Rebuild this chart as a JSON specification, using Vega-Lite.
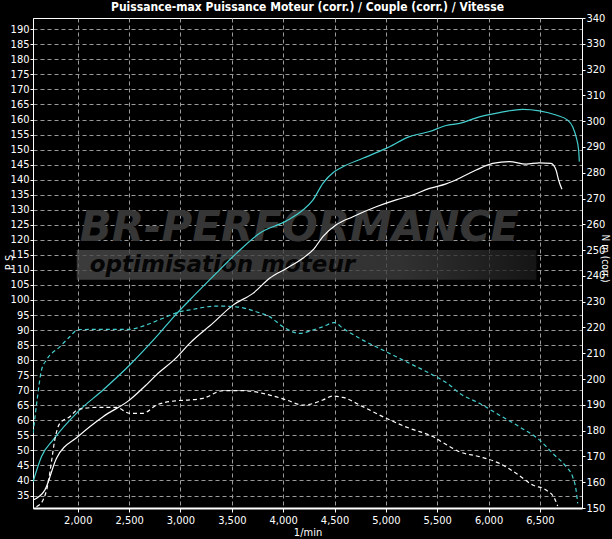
{
  "$schema": "https://vega.github.io/schema/vega-lite/v6.json",
  "width": 549,
  "height": 490,
  "autosize": "none",
  "padding": {"left": 33, "top": 18, "right": 30, "bottom": 31},
  "background": "#000000",
  "config": {
    "view": {"stroke": "#ffffff", "strokeWidth": 1, "fill": "#000000"},
    "font": "Liberation Sans Narrow, DejaVu Sans Condensed, sans-serif",
    "axis": {
      "labelColor": "#ffffff", "labelFontSize": 11,
      "titleColor": "#ffffff", "titleFontSize": 11, "titleFontWeight": "normal",
      "tickColor": "#ffffff", "domainColor": "#ffffff",
      "gridColor": "#9a9a9a", "gridDash": [4, 3], "gridWidth": 1
    }
  },
  "title": {
    "text": "Puissance-max Puissance Moteur (corr.) / Couple (corr.) / Vitesse",
    "color": "#ffffff",
    "fontSize": 12,
    "fontWeight": "bold",
    "font": "Liberation Sans Narrow, DejaVu Sans Condensed, sans-serif",
    "offset": -2,
    "anchor": "middle"
  },
  "datasets": {
    "curves": [
      {"rpm": 1564, "val": 39.5, "run": "A", "kind": "P"},
      {"rpm": 1647, "val": 48, "run": "A", "kind": "P"},
      {"rpm": 1760, "val": 53.5, "run": "A", "kind": "P"},
      {"rpm": 2003, "val": 62.9, "run": "A", "kind": "P"},
      {"rpm": 2246, "val": 70.1, "run": "A", "kind": "P"},
      {"rpm": 2506, "val": 78.4, "run": "A", "kind": "P"},
      {"rpm": 2766, "val": 87.8, "run": "A", "kind": "P"},
      {"rpm": 2950, "val": 95, "run": "A", "kind": "P"},
      {"rpm": 3090, "val": 100, "run": "A", "kind": "P"},
      {"rpm": 3316, "val": 107.8, "run": "A", "kind": "P"},
      {"rpm": 3544, "val": 115.5, "run": "A", "kind": "P"},
      {"rpm": 3771, "val": 122.2, "run": "A", "kind": "P"},
      {"rpm": 4031, "val": 126.3, "run": "A", "kind": "P"},
      {"rpm": 4192, "val": 129.9, "run": "A", "kind": "P"},
      {"rpm": 4289, "val": 133.2, "run": "A", "kind": "P"},
      {"rpm": 4387, "val": 138.8, "run": "A", "kind": "P"},
      {"rpm": 4500, "val": 142.7, "run": "A", "kind": "P"},
      {"rpm": 4581, "val": 144.3, "run": "A", "kind": "P"},
      {"rpm": 4776, "val": 147.1, "run": "A", "kind": "P"},
      {"rpm": 5003, "val": 150.4, "run": "A", "kind": "P"},
      {"rpm": 5230, "val": 154.3, "run": "A", "kind": "P"},
      {"rpm": 5425, "val": 156, "run": "A", "kind": "P"},
      {"rpm": 5587, "val": 158, "run": "A", "kind": "P"},
      {"rpm": 5717, "val": 158.7, "run": "A", "kind": "P"},
      {"rpm": 5911, "val": 160.9, "run": "A", "kind": "P"},
      {"rpm": 6106, "val": 162.3, "run": "A", "kind": "P"},
      {"rpm": 6333, "val": 163.4, "run": "A", "kind": "P"},
      {"rpm": 6495, "val": 162.9, "run": "A", "kind": "P"},
      {"rpm": 6657, "val": 161.5, "run": "A", "kind": "P"},
      {"rpm": 6770, "val": 159.8, "run": "A", "kind": "P"},
      {"rpm": 6819, "val": 157.6, "run": "A", "kind": "P"},
      {"rpm": 6852, "val": 154.3, "run": "A", "kind": "P"},
      {"rpm": 6877, "val": 149.9, "run": "A", "kind": "P"},
      {"rpm": 6884, "val": 146, "run": "A", "kind": "P"},

      {"rpm": 1564, "val": 33.5, "run": "B", "kind": "P"},
      {"rpm": 1679, "val": 36.8, "run": "B", "kind": "P"},
      {"rpm": 1793, "val": 47.4, "run": "B", "kind": "P"},
      {"rpm": 2003, "val": 54.6, "run": "B", "kind": "P"},
      {"rpm": 2246, "val": 61.2, "run": "B", "kind": "P"},
      {"rpm": 2506, "val": 66.8, "run": "B", "kind": "P"},
      {"rpm": 2668, "val": 71.8, "run": "B", "kind": "P"},
      {"rpm": 2766, "val": 75.1, "run": "B", "kind": "P"},
      {"rpm": 2950, "val": 80.5, "run": "B", "kind": "P"},
      {"rpm": 3090, "val": 85.6, "run": "B", "kind": "P"},
      {"rpm": 3316, "val": 92.3, "run": "B", "kind": "P"},
      {"rpm": 3511, "val": 98.3, "run": "B", "kind": "P"},
      {"rpm": 3706, "val": 102.2, "run": "B", "kind": "P"},
      {"rpm": 3868, "val": 107.2, "run": "B", "kind": "P"},
      {"rpm": 4031, "val": 110.5, "run": "B", "kind": "P"},
      {"rpm": 4192, "val": 113.9, "run": "B", "kind": "P"},
      {"rpm": 4300, "val": 117, "run": "B", "kind": "P"},
      {"rpm": 4387, "val": 121.1, "run": "B", "kind": "P"},
      {"rpm": 4517, "val": 125, "run": "B", "kind": "P"},
      {"rpm": 4679, "val": 127.7, "run": "B", "kind": "P"},
      {"rpm": 4906, "val": 131, "run": "B", "kind": "P"},
      {"rpm": 5100, "val": 133.3, "run": "B", "kind": "P"},
      {"rpm": 5262, "val": 134.9, "run": "B", "kind": "P"},
      {"rpm": 5425, "val": 137.1, "run": "B", "kind": "P"},
      {"rpm": 5587, "val": 138.6, "run": "B", "kind": "P"},
      {"rpm": 5717, "val": 140.5, "run": "B", "kind": "P"},
      {"rpm": 5879, "val": 143.2, "run": "B", "kind": "P"},
      {"rpm": 6041, "val": 145.4, "run": "B", "kind": "P"},
      {"rpm": 6203, "val": 146, "run": "B", "kind": "P"},
      {"rpm": 6365, "val": 145.2, "run": "B", "kind": "P"},
      {"rpm": 6495, "val": 145.6, "run": "B", "kind": "P"},
      {"rpm": 6608, "val": 145.4, "run": "B", "kind": "P"},
      {"rpm": 6657, "val": 143.2, "run": "B", "kind": "P"},
      {"rpm": 6682, "val": 139.9, "run": "B", "kind": "P"},
      {"rpm": 6715, "val": 136.8, "run": "B", "kind": "P"},

      {"rpm": 1565, "val": 179, "run": "A", "kind": "T"},
      {"rpm": 1604, "val": 191.9, "run": "A", "kind": "T"},
      {"rpm": 1647, "val": 203.5, "run": "A", "kind": "T"},
      {"rpm": 1695, "val": 207.4, "run": "A", "kind": "T"},
      {"rpm": 1825, "val": 212.5, "run": "A", "kind": "T"},
      {"rpm": 1922, "val": 216.4, "run": "A", "kind": "T"},
      {"rpm": 2003, "val": 219.2, "run": "A", "kind": "T"},
      {"rpm": 2506, "val": 219.3, "run": "A", "kind": "T"},
      {"rpm": 2668, "val": 221, "run": "A", "kind": "T"},
      {"rpm": 2830, "val": 223.6, "run": "A", "kind": "T"},
      {"rpm": 2992, "val": 226.1, "run": "A", "kind": "T"},
      {"rpm": 3090, "val": 226.8, "run": "A", "kind": "T"},
      {"rpm": 3349, "val": 228.3, "run": "A", "kind": "T"},
      {"rpm": 3544, "val": 228, "run": "A", "kind": "T"},
      {"rpm": 3738, "val": 226.1, "run": "A", "kind": "T"},
      {"rpm": 3868, "val": 224.2, "run": "A", "kind": "T"},
      {"rpm": 3998, "val": 220.3, "run": "A", "kind": "T"},
      {"rpm": 4160, "val": 217.7, "run": "A", "kind": "T"},
      {"rpm": 4289, "val": 219, "run": "A", "kind": "T"},
      {"rpm": 4387, "val": 220.3, "run": "A", "kind": "T"},
      {"rpm": 4500, "val": 221.9, "run": "A", "kind": "T"},
      {"rpm": 4581, "val": 219.7, "run": "A", "kind": "T"},
      {"rpm": 4776, "val": 215.1, "run": "A", "kind": "T"},
      {"rpm": 5003, "val": 210.6, "run": "A", "kind": "T"},
      {"rpm": 5230, "val": 206.1, "run": "A", "kind": "T"},
      {"rpm": 5457, "val": 201.6, "run": "A", "kind": "T"},
      {"rpm": 5620, "val": 197.7, "run": "A", "kind": "T"},
      {"rpm": 5717, "val": 194.5, "run": "A", "kind": "T"},
      {"rpm": 5911, "val": 190.6, "run": "A", "kind": "T"},
      {"rpm": 6106, "val": 186, "run": "A", "kind": "T"},
      {"rpm": 6300, "val": 181.5, "run": "A", "kind": "T"},
      {"rpm": 6495, "val": 176.4, "run": "A", "kind": "T"},
      {"rpm": 6625, "val": 171.2, "run": "A", "kind": "T"},
      {"rpm": 6755, "val": 166, "run": "A", "kind": "T"},
      {"rpm": 6819, "val": 162.1, "run": "A", "kind": "T"},
      {"rpm": 6852, "val": 157, "run": "A", "kind": "T"},
      {"rpm": 6868, "val": 151.8, "run": "A", "kind": "T"},

      {"rpm": 1598, "val": 150.5, "run": "B", "kind": "T"},
      {"rpm": 1662, "val": 153.1, "run": "B", "kind": "T"},
      {"rpm": 1711, "val": 159.6, "run": "B", "kind": "T"},
      {"rpm": 1744, "val": 168, "run": "B", "kind": "T"},
      {"rpm": 1776, "val": 176.4, "run": "B", "kind": "T"},
      {"rpm": 1825, "val": 182.8, "run": "B", "kind": "T"},
      {"rpm": 1922, "val": 185.4, "run": "B", "kind": "T"},
      {"rpm": 2003, "val": 188.2, "run": "B", "kind": "T"},
      {"rpm": 2182, "val": 189, "run": "B", "kind": "T"},
      {"rpm": 2377, "val": 189, "run": "B", "kind": "T"},
      {"rpm": 2506, "val": 186.7, "run": "B", "kind": "T"},
      {"rpm": 2635, "val": 186.7, "run": "B", "kind": "T"},
      {"rpm": 2766, "val": 189.9, "run": "B", "kind": "T"},
      {"rpm": 2960, "val": 191.6, "run": "B", "kind": "T"},
      {"rpm": 3090, "val": 191.9, "run": "B", "kind": "T"},
      {"rpm": 3219, "val": 192.5, "run": "B", "kind": "T"},
      {"rpm": 3414, "val": 195.5, "run": "B", "kind": "T"},
      {"rpm": 3608, "val": 195.5, "run": "B", "kind": "T"},
      {"rpm": 3868, "val": 193.8, "run": "B", "kind": "T"},
      {"rpm": 4031, "val": 191.9, "run": "B", "kind": "T"},
      {"rpm": 4192, "val": 189.9, "run": "B", "kind": "T"},
      {"rpm": 4290, "val": 190.5, "run": "B", "kind": "T"},
      {"rpm": 4387, "val": 191.9, "run": "B", "kind": "T"},
      {"rpm": 4484, "val": 193.4, "run": "B", "kind": "T"},
      {"rpm": 4581, "val": 192.9, "run": "B", "kind": "T"},
      {"rpm": 4776, "val": 189.3, "run": "B", "kind": "T"},
      {"rpm": 5003, "val": 184.8, "run": "B", "kind": "T"},
      {"rpm": 5230, "val": 180.9, "run": "B", "kind": "T"},
      {"rpm": 5457, "val": 177.7, "run": "B", "kind": "T"},
      {"rpm": 5587, "val": 174.6, "run": "B", "kind": "T"},
      {"rpm": 5717, "val": 171.8, "run": "B", "kind": "T"},
      {"rpm": 5911, "val": 169.9, "run": "B", "kind": "T"},
      {"rpm": 6106, "val": 167.3, "run": "B", "kind": "T"},
      {"rpm": 6268, "val": 163.5, "run": "B", "kind": "T"},
      {"rpm": 6430, "val": 158.9, "run": "B", "kind": "T"},
      {"rpm": 6560, "val": 157, "run": "B", "kind": "T"},
      {"rpm": 6641, "val": 153.8, "run": "B", "kind": "T"},
      {"rpm": 6673, "val": 150.8, "run": "B", "kind": "T"}
    ]
  },
  "layer": [
    {
      "layer": [
        {
          "data": {"values": [{"label": "band"}]},
          "mark": {
            "type": "rect",
            "opacity": 0.8,
            "color": {
              "gradient": "linear", "x1": 0, "y1": 0, "x2": 1, "y2": 0,
              "stops": [
                {"offset": 0, "color": "#4a4a4a"},
                {"offset": 0.7, "color": "#3e3e3e"},
                {"offset": 1, "color": "#1a1a1a"}
              ]
            }
          },
          "encoding": {
            "x": {"datum": 1990, "type": "quantitative"},
            "x2": {"datum": 6466},
            "y": {"datum": 116.6, "type": "quantitative", "scale": {"domain": [30.85, 193.75], "nice": false, "zero": false}, "axis": null},
            "y2": {"datum": 106.7}
          }
        },
        {
          "data": {"values": [{"label": "BR-PERFORMANCE"}]},
          "mark": {
            "type": "text",
            "align": "left",
            "baseline": "alphabetic",
            "font": "DejaVu Sans",
            "fontStyle": "italic",
            "fontWeight": "bold",
            "fontSize": 42,
            "color": "#363636"
          },
          "encoding": {
            "x": {"datum": 2019, "type": "quantitative"},
            "y": {"datum": 119.5, "type": "quantitative", "axis": null},
            "text": {"field": "label"}
          }
        },
        {
          "data": {"values": [{"label": "optimisation moteur"}]},
          "mark": {
            "type": "text",
            "align": "left",
            "baseline": "alphabetic",
            "font": "DejaVu Sans",
            "fontStyle": "italic",
            "fontWeight": "bold",
            "fontSize": 23,
            "color": "#050505"
          },
          "encoding": {
            "x": {"datum": 2117, "type": "quantitative"},
            "y": {"datum": 109.3, "type": "quantitative", "axis": null},
            "text": {"field": "label"}
          }
        }
      ]
    },
    {
      "data": {"name": "curves"},
      "transform": [{"filter": "datum.kind === 'P'"}],
      "mark": {"type": "line", "interpolate": "monotone", "strokeWidth": 1.2, "clip": true},
      "encoding": {
        "x": {
          "field": "rpm", "type": "quantitative",
          "scale": {"domain": [1564, 6910], "nice": false, "zero": false},
          "axis": {
            "title": "1/min",
            "values": [2000, 2500, 3000, 3500, 4000, 4500, 5000, 5500, 6000, 6500],
            "format": ",d",
            "labelOverlap": false,
            "labelPadding": 2, "titlePadding": 1,
            "tickSize": 4, "domainWidth": 2,
            "grid": true
          }
        },
        "y": {
          "field": "val", "type": "quantitative",
          "scale": {"domain": [30.85, 193.75], "nice": false, "zero": false},
          "axis": {
            "title": "P S",
            "orient": "left",
            "values": [35, 40, 45, 50, 55, 60, 65, 70, 75, 80, 85, 90, 95, 100, 105, 110, 115, 120, 125, 130, 135, 140, 145, 150, 155, 160, 165, 170, 175, 180, 185, 190],
            "labelOverlap": false,
            "labelPadding": 1,
            "titleAngle": -90, "titleX": -24, "titleY": 244, "titleAlign": "center", "titleBaseline": "middle",
            "tickSize": 3,
            "grid": true
          }
        },
        "color": {
          "field": "run", "type": "nominal",
          "scale": {"domain": ["A", "B"], "range": ["#44cfcf", "#ffffff"]},
          "legend": null
        },
        "detail": {"field": "run"}
      }
    },
    {
      "data": {"name": "curves"},
      "transform": [{"filter": "datum.kind === 'T'"}],
      "mark": {"type": "line", "interpolate": "monotone", "strokeWidth": 1.2, "strokeDash": [4, 3], "clip": true},
      "encoding": {
        "x": {
          "field": "rpm", "type": "quantitative",
          "scale": {"domain": [1564, 6910], "nice": false, "zero": false}
        },
        "y": {
          "field": "val", "type": "quantitative",
          "scale": {"domain": [150, 340], "nice": false, "zero": false},
          "axis": {
            "title": "N m (corr.)",
            "orient": "right",
            "values": [150, 160, 170, 180, 190, 200, 210, 220, 230, 240, 250, 260, 270, 280, 290, 300, 310, 320, 330, 340],
            "labelOverlap": false,
            "labelPadding": 1,
            "titleFontSize": 10,
            "titleAngle": 90, "titleX": 22, "titleY": 240, "titleAlign": "center", "titleBaseline": "middle",
            "tickSize": 3,
            "grid": false
          }
        },
        "color": {
          "field": "run", "type": "nominal",
          "scale": {"domain": ["A", "B"], "range": ["#44cfcf", "#ffffff"]},
          "legend": null
        },
        "detail": {"field": "run"}
      }
    }
  ],
  "resolve": {"scale": {"y": "independent"}}
}
